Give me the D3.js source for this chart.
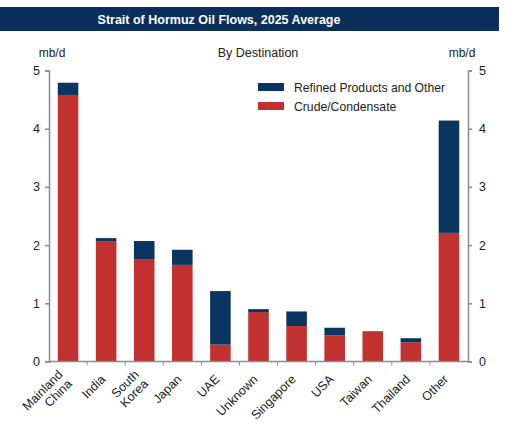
<!DOCTYPE html>
<html>
<head>
<meta charset="utf-8">
<script src="https://cdn.jsdelivr.net/npm/d3@7"></script>
<style>
  body { margin: 0; background: #fff; }
  svg { font-family: "Liberation Sans", Arial, sans-serif; }
</style>
</head>
<body>
<svg id="chart" width="516" height="434"></svg>
<script>
// values, mb/d
const destinations = ["Mainland\nChina", "India", "South\nKorea", "Japan", "UAE", "Unknown",
  "Singapore", "USA", "Taiwan", "Thailand", "Other"];
const crude = [4.58, 2.06, 1.75, 1.66, 0.29, 0.85, 0.61, 0.45, 0.51, 0.33, 2.21];
const refined = [0.21, 0.06, 0.32, 0.26, 0.92, 0.05, 0.25, 0.13, 0.01, 0.07, 1.93];
const yTicks = [0, 1, 2, 3, 4, 5];
const seriesNames = ["Refined Products and Other", "Crude/Condensate"];

const navy = "#0a3560", red = "#c1312f", axisGrey = "#8c8c8c";

const svg = d3.select("#chart");
const plotLeft = 49, plotRight = 468, plotTop = 70.5, plotBottom = 361.5;

// title band
svg.append("rect").attr("x", 0).attr("y", 7).attr("width", 499).attr("height", 24).attr("fill", "#0b2f5a");
svg.append("text").attr("x", 219).attr("y", 23.5).attr("text-anchor", "middle")
  .attr("fill", "#fff").attr("font-weight", "bold").attr("font-size", 12.5)
  .text("Strait of Hormuz Oil Flows, 2025 Average");

svg.append("text").attr("x", 258).attr("y", 57).attr("text-anchor", "middle")
  .attr("font-size", 12.5).attr("fill", "#222").text("By Destination");
svg.append("text").attr("x", 52).attr("y", 57).attr("text-anchor", "middle")
  .attr("font-size", 12).attr("fill", "#222").text("mb/d");
svg.append("text").attr("x", 462).attr("y", 57).attr("text-anchor", "middle")
  .attr("font-size", 12).attr("fill", "#222").text("mb/d");

const x = d3.scaleBand().domain(d3.range(destinations.length)).range([plotLeft, plotRight]).paddingInner(0.46).paddingOuter(0.23);
const y = d3.scaleLinear().domain([0, 5]).range([plotBottom, plotTop]);

const rows = destinations.map((d, i) => ({ i, crude: crude[i], refined: refined[i] }));
const stack = d3.stack().keys(["crude", "refined"])(rows);
const colors = { crude: red, refined: navy };

svg.append("g").selectAll("g").data(stack).join("g")
  .attr("fill", s => colors[s.key])
  .selectAll("rect").data(s => s).join("rect")
  .attr("x", d => x(d.data.i))
  .attr("width", x.bandwidth())
  .attr("y", d => y(d[1]))
  .attr("height", d => y(d[0]) - y(d[1]));

// y axes
const yl = svg.append("g").attr("transform", `translate(${plotLeft},0)`)
  .call(d3.axisLeft(y).tickValues(yTicks).tickFormat(d3.format("d")).tickSize(4).tickPadding(5));
const yr = svg.append("g").attr("transform", `translate(${plotRight},0)`)
  .call(d3.axisRight(y).tickValues(yTicks).tickFormat(d3.format("d")).tickSize(4).tickPadding(7));
[yl, yr].forEach(g => {
  g.selectAll("path,line").attr("stroke", axisGrey).attr("stroke-width", 1.5);
  g.selectAll("text").attr("font-size", 12.5).attr("fill", "#222").attr("font-family", "Liberation Sans, Arial, sans-serif");
});

// x axis line with ticks at band boundaries
const xg = svg.append("g");
xg.append("line").attr("x1", plotLeft).attr("x2", plotRight).attr("y1", plotBottom).attr("y2", plotBottom)
  .attr("stroke", axisGrey).attr("stroke-width", 1.5);
const step = x.step();
xg.selectAll("line.tk").data(d3.range(1, destinations.length)).join("line").attr("class", "tk")
  .attr("x1", i => x(i) - step * x.paddingInner() / 2).attr("x2", i => x(i) - step * x.paddingInner() / 2)
  .attr("y1", plotBottom).attr("y2", plotBottom + 4)
  .attr("stroke", axisGrey).attr("stroke-width", 1);

const lh = 13;
xg.selectAll("text.lab").data(destinations).join("text").attr("class", "lab")
  .attr("transform", (d, i) => `translate(${x(i) + x.bandwidth() / 2 - 3},377) rotate(-45)`)
  .attr("text-anchor", "end").attr("font-size", 12.5).attr("fill", "#222")
  .each(function (d) {
    const parts = d.split("\n");
    d3.select(this).selectAll("tspan").data(parts).join("tspan")
      .attr("x", 0)
      .attr("dy", (p, j) => j === 0 ? (0.35 * 12 - (parts.length - 1) * lh / 2) : lh)
      .text(p => p);
  });

// legend
const legend = svg.append("g").attr("transform", "translate(258,83)");
const lrow = legend.selectAll("g").data(seriesNames).join("g")
  .attr("transform", (d, i) => `translate(0,${i * 19})`);
lrow.append("rect").attr("width", 26).attr("height", 8).attr("fill", (d, i) => i === 0 ? navy : red);
lrow.append("text").attr("x", 36).attr("y", 8.5).attr("font-size", 12.2).attr("fill", "#222").text(d => d);
</script>
</body>
</html>
